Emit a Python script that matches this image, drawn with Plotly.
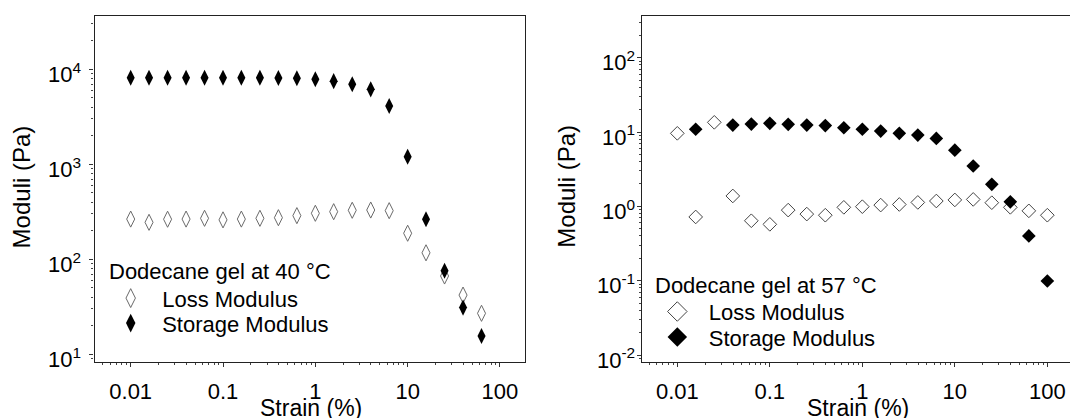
import plotly.graph_objects as go

# ---- Dodecane gel at 40 °C (strain sweep) ----
strain_40 = [0.01, 0.0158, 0.0251, 0.0398, 0.0631, 0.1, 0.158, 0.251, 0.398, 0.631,
             1, 1.58, 2.51, 3.98, 6.31, 10, 15.8, 25.1, 39.8, 63.1]
loss_40 = [265, 245, 264, 265, 270, 260, 265, 270, 274, 288,
           305, 317, 328, 330, 325, 188, 117, 66.7, 42, 27]
storage_40 = [8150, 8150, 8150, 8150, 8150, 8150, 8150, 8150, 8100, 8050,
              7850, 7500, 6950, 6150, 4100, 1200, 264, 75.8, 31.0, 15.6]

# ---- Dodecane gel at 57 °C (strain sweep) ----
strain_57_loss = [0.01, 0.0158, 0.0251, 0.0398, 0.0631, 0.1, 0.158, 0.251, 0.398, 0.631,
                  1, 1.58, 2.51, 3.98, 6.31, 10, 15.8, 25.1, 39.8, 63.1, 100]
loss_57 = [9.6, 0.72, 13.5, 1.38, 0.64, 0.573, 0.89, 0.787, 0.76, 0.97,
           0.99, 1.04, 1.06, 1.13, 1.18, 1.22, 1.24, 1.12, 0.97, 0.87, 0.76]
strain_57_storage = [0.0158, 0.0398, 0.0631, 0.1, 0.158, 0.251, 0.398, 0.631,
                     1, 1.58, 2.51, 3.98, 6.31, 10, 15.8, 25.1, 39.8, 63.1, 100]
storage_57 = [10.9, 12.4, 12.8, 13.1, 12.7, 12.4, 12.2, 11.4,
              10.9, 10.3, 9.6, 9.1, 8.2, 5.7, 3.49, 1.98, 1.15, 0.40, 0.099]

x_ticks = [0.01, 0.1, 1, 10, 100]
x_ticktext = ["0.01", "0.1", "1", "10", "100"]
y_ticks_40 = [10, 100, 1000, 10000]
y_ticktext_40 = ["10<sup>1</sup>", "10<sup>2</sup>", "10<sup>3</sup>", "10<sup>4</sup>"]
y_ticks_57 = [0.01, 0.1, 1, 10, 100]
y_ticktext_57 = ["10<sup>-2</sup>", "10<sup>-1</sup>", "10<sup>0</sup>", "10<sup>1</sup>", "10<sup>2</sup>"]

FONT = "Liberation Sans, Arial, sans-serif"
FS = 22
W, H = 1070, 418


def px_x(v):
    return v / W


def px_y(v):
    return (H - v) / H


fig = go.Figure()

# data traces
fig.add_trace(go.Scatter(x=strain_40, y=loss_40, mode="markers", xaxis="x", yaxis="y",
                         marker=dict(symbol="diamond-tall-open", size=11.5, color="#6a6a6a",
                                     line=dict(width=1, color="#6a6a6a")),
                         showlegend=False, name="Loss Modulus"))
fig.add_trace(go.Scatter(x=strain_40, y=storage_40, mode="markers", xaxis="x", yaxis="y",
                         marker=dict(symbol="diamond-tall", size=11.5, color="black"),
                         showlegend=False, name="Storage Modulus"))
fig.add_trace(go.Scatter(x=strain_57_loss, y=loss_57, mode="markers", xaxis="x2", yaxis="y2",
                         marker=dict(symbol="diamond-open", size=10.5, color="#444444",
                                     line=dict(width=1, color="#444444")),
                         showlegend=False, name="Loss Modulus"))
fig.add_trace(go.Scatter(x=strain_57_storage, y=storage_57, mode="markers", xaxis="x2", yaxis="y2",
                         marker=dict(symbol="diamond", size=10.5, color="black"),
                         showlegend=False, name="Storage Modulus"))

# legend entries (one small legend per entry so spacing can follow the panels)
legend_entries = [
    ("legend", "Loss Modulus", dict(symbol="diamond-tall-open", size=13.5, color="#6a6a6a",
                                    line=dict(width=1, color="#6a6a6a")), "x", "y"),
    ("legend2", "Storage Modulus", dict(symbol="diamond-tall", size=13.5, color="black"), "x", "y"),
    ("legend3", "Loss Modulus", dict(symbol="diamond-open", size=15, color="#444444",
                                     line=dict(width=1, color="#444444")), "x2", "y2"),
    ("legend4", "Storage Modulus", dict(symbol="diamond", size=15, color="black"), "x2", "y2"),
]
for leg, name, mk, xa, ya in legend_entries:
    fig.add_trace(go.Scatter(x=[None], y=[None], mode="markers", name=name, marker=mk,
                             legend=leg, xaxis=xa, yaxis=ya, showlegend=True))

ITEMW = 53
legend_pos = {
    "legend": (130.7, 298.3),
    "legend2": (130.7, 323.3),
    "legend3": (677.3, 311.7),
    "legend4": (677.3, 337.3),
}
for leg, (cx, cy) in legend_pos.items():
    fig.update_layout({leg: dict(
        x=px_x(cx - 5 - ITEMW / 2), xanchor="left",
        y=px_y(cy), yanchor="middle",
        bgcolor="rgba(0,0,0,0)", borderwidth=0,
        itemwidth=ITEMW, font=dict(family=FONT, size=FS, color="black"),
        itemclick=False, itemdoubleclick=False,
    )})

axis_common = dict(
    type="log", showline=True, linecolor="#222222", linewidth=1.3,
    ticks="outside", ticklen=4, tickwidth=1, tickcolor="#333333",
    showgrid=False, zeroline=False,
    tickfont=dict(family=FONT, size=FS, color="black"),
    minor=dict(ticks="outside", ticklen=2, tickwidth=1, tickcolor="#444444",
               dtick="D1", showgrid=False),
    automargin=False,
)

y_bot, y_top = 361.7, 15.7
fig.update_layout(
    width=W, height=H,
    margin=dict(l=0, r=0, t=0, b=0),
    paper_bgcolor="white", plot_bgcolor="white",
    font=dict(family=FONT, size=FS, color="black"),
    xaxis=dict(axis_common, domain=[px_x(94.5), px_x(525)], range=[-2.392, 2.271],
               tickmode="array", tickvals=x_ticks, ticktext=x_ticktext,
               mirror=True, anchor="y", ticklabelstandoff=6),
    yaxis=dict(axis_common, domain=[px_y(y_bot), px_y(y_top)], range=[0.922, 4.564],
               tickmode="array", tickvals=y_ticks_40, ticktext=y_ticktext_40,
               mirror=True, anchor="x", ticklabelshift=5, ticklabelstandoff=4),
    xaxis2=dict(axis_common, domain=[px_x(641.7), 1.0], range=[-2.385, 2.245],
                tickmode="array", tickvals=x_ticks, ticktext=x_ticktext,
                mirror=True, anchor="y2", ticklabelstandoff=6),
    yaxis2=dict(axis_common, domain=[px_y(y_bot), px_y(y_top)], range=[-2.09, 2.565],
                tickmode="array", tickvals=y_ticks_57, ticktext=y_ticktext_57,
                mirror=False, anchor="x2", ticklabelshift=5, ticklabelstandoff=-3),
)

annotations = [
    dict(text="Moduli (Pa)", x=px_x(21.7), y=px_y(186.7), textangle=-90, size=24),
    dict(text="Moduli (Pa)", x=px_x(567), y=px_y(186.7), textangle=-90, size=24),
    dict(text="Strain (%)", x=px_x(310.8), y=px_y(407.5), size=23),
    dict(text="Strain (%)", x=px_x(857.5), y=px_y(407.5), size=23),
]
for a in annotations:
    fs = a.pop("size")
    a.update(xref="paper", yref="paper", xanchor="center", yanchor="middle",
             showarrow=False, font=dict(family=FONT, size=fs, color="black"))
annotations += [
    dict(text="Dodecane gel at 40 °C", x=px_x(107), y=px_y(271.7)),
    dict(text="Dodecane gel at 57 °C", x=px_x(653), y=px_y(285)),
]
for a in annotations[4:]:
    a.update(xref="paper", yref="paper", xanchor="left", yanchor="middle",
             showarrow=False, font=dict(family=FONT, size=FS, color="black"))
fig.update_layout(annotations=annotations)

fig.write_html("out.html")
